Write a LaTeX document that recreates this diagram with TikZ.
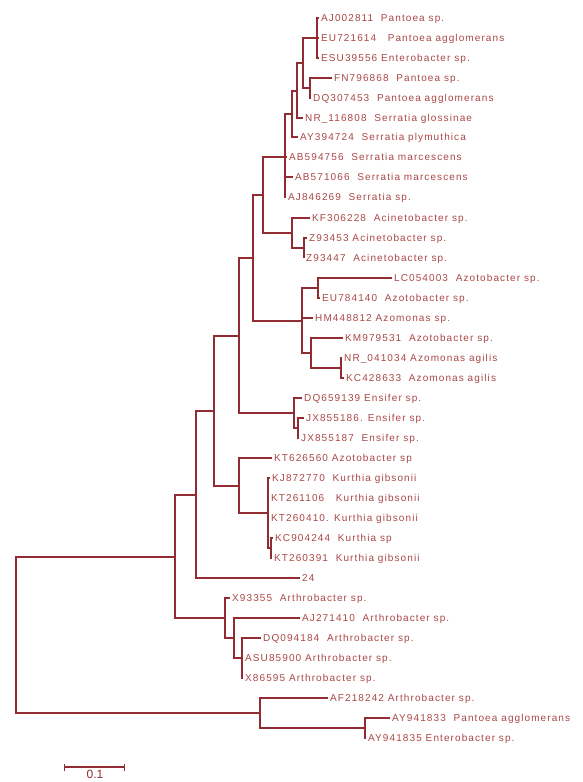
\documentclass[tikz,border=0pt]{standalone}
\usepackage{fontspec}
\setmainfont{Liberation Sans}
\newfontfamily\treefont[LetterSpace=11]{Liberation Sans}
\usetikzlibrary{positioning,arrows.meta}

\definecolor{branchred}{RGB}{145,45,50}
\definecolor{labelred}{RGB}{170,70,70}

\tikzstyle{leaf} = [anchor=west, inner xsep=2pt, inner ysep=0pt, text height=7.2pt, text depth=0pt, font=\fontsize{10}{10}\treefont, text=labelred]
\tikzstyle{branch} = [draw=branchred, line width=1.3pt]
\tikzstyle{scalebar} = [branch, {Bar[width=7pt]}-{Bar[width=7pt]}]

\begin{document}
\begin{tikzpicture}[x=1pt, y=-1pt]
  \useasboundingbox (0,0) rectangle (582,782);

  % leaves
  \node (aj002811) [leaf] at (319,18) {AJ002811\ \ Pantoea sp.};
  \node (eu721614) [leaf] at (319,38) {EU721614\ \ \ Pantoea agglomerans};
  \node (esu39556) [leaf] at (319,58) {ESU39556 Enterobacter sp.};
  \node (fn796868) [leaf] at (332,78) {FN796868\ \ Pantoea sp.};
  \node (dq307453) [leaf] at (311,98) {DQ307453\ \ Pantoea agglomerans};
  \node (nr116808) [leaf] at (303,118) {NR\_116808\ \ Serratia glossinae};
  \node (ay394724) [leaf] at (298,137) {AY394724\ \ Serratia plymuthica};
  \node (ab594756) [leaf] at (287,157) {AB594756\ \ Serratia marcescens};
  \node (ab571066) [leaf] at (293,177) {AB571066\ \ Serratia marcescens};
  \node (aj846269) [leaf] at (286,197) {AJ846269\ \ Serratia sp.};
  \node (kf306228) [leaf] at (310,218) {KF306228\ \ Acinetobacter sp.};
  \node (z93453) [leaf] at (307,238) {Z93453 Acinetobacter sp.};
  \node (z93447) [leaf] at (304,258) {Z93447\ \ Acinetobacter sp.};
  \node (lc054003) [leaf] at (392,278) {LC054003\ \ Azotobacter sp.};
  \node (eu784140) [leaf] at (320,298) {EU784140\ \ Azotobacter sp.};
  \node (hm448812) [leaf] at (313,318) {HM448812 Azomonas sp.};
  \node (km979531) [leaf] at (343,338) {KM979531\ \ Azotobacter sp.};
  \node (nr041034) [leaf] at (342,358) {NR\_041034 Azomonas agilis};
  \node (kc428633) [leaf] at (344,378) {KC428633\ \ Azomonas agilis};
  \node (dq659139) [leaf] at (302,398) {DQ659139 Ensifer sp.};
  \node (jx855186) [leaf] at (304,418) {JX855186. Ensifer sp.};
  \node (jx855187) [leaf] at (299,438) {JX855187\ \ Ensifer sp.};
  \node (kt626560) [leaf] at (272,458) {KT626560 Azotobacter sp};
  \node (kj872770) [leaf] at (270,478) {KJ872770\ \ Kurthia gibsonii};
  \node (kt261106) [leaf] at (269,498) {KT261106\ \ \ Kurthia gibsonii};
  \node (kt260410) [leaf] at (269,518) {KT260410. Kurthia gibsonii};
  \node (kc904244) [leaf] at (273,538) {KC904244\ \ Kurthia sp};
  \node (kt260391) [leaf] at (272,558) {KT260391\ \ Kurthia gibsonii};
  \node (s24) [leaf] at (300,578) {24};
  \node (x93355) [leaf] at (230,598) {X93355\ \ Arthrobacter sp.};
  \node (aj271410) [leaf] at (300,618) {AJ271410\ \ Arthrobacter sp.};
  \node (dq094184) [leaf] at (261,638) {DQ094184\ \ Arthrobacter sp.};
  \node (asu85900) [leaf] at (243,658) {ASU85900 Arthrobacter sp.};
  \node (x86595) [leaf] at (243,678) {X86595 Arthrobacter sp.};
  \node (af218242) [leaf] at (328,698) {AF218242 Arthrobacter sp.};
  \node (ay941833) [leaf] at (390,718) {AY941833\ \ Pantoea agglomerans};
  \node (ay941835) [leaf] at (366,738) {AY941835 Enterobacter sp.};

  % internal nodes
  \coordinate (p1) at (317,38);
  \coordinate (p3) at (310,88);
  \coordinate (p2) at (303,63);
  \coordinate (p4) at (297,91);
  \coordinate (p5) at (292,114);
  \coordinate (p6) at (285,157);
  \coordinate (p9) at (304,248);
  \coordinate (p8) at (292,233);
  \coordinate (p7) at (263,195);
  \coordinate (p12) at (318,288);
  \coordinate (p14) at (341,368);
  \coordinate (p13) at (311,353);
  \coordinate (p11) at (302,321);
  \coordinate (p10) at (253,258);
  \coordinate (p17) at (298,428);
  \coordinate (p16) at (294,413);
  \coordinate (p15) at (239,336);
  \coordinate (p20) at (271,548);
  \coordinate (p19) at (268,513);
  \coordinate (p18) at (239,486);
  \coordinate (p21) at (214,411);
  \coordinate (p22) at (196,495);
  \coordinate (p26) at (242,658);
  \coordinate (p25) at (234,638);
  \coordinate (p24) at (225,618);
  \coordinate (p23) at (175,557);
  \coordinate (p28) at (365,728);
  \coordinate (p27) at (260,713);
  \coordinate (root) at (16,635);

  % branches
  \draw [branch] (aj002811.west) -| (p1) |- (esu39556.west);
  \draw [branch] (p1) -- (eu721614.west);
  \draw [branch] (fn796868.west) -| (p3) |- (dq307453.west);
  \draw [branch] (p1) -| (p2) |- (p3);
  \draw [branch] (p2) -| (p4) |- (nr116808.west);
  \draw [branch] (p4) -| (p5) |- (ay394724.west);
  \draw [branch] (p5) -| (p6) |- (aj846269.west);
  \draw [branch] (p6) -- (ab594756.west);
  \draw [branch] (p6) |- (ab571066.west);
  \draw [branch] (z93453.west) -| (p9) |- (z93447.west);
  \draw [branch] (kf306228.west) -| (p8) |- (p9);
  \draw [branch] (p6) -| (p7) |- (p8);
  \draw [branch] (lc054003.west) -| (p12) |- (eu784140.west);
  \draw [branch] (nr041034.west) -| (p14) |- (kc428633.west);
  \draw [branch] (km979531.west) -| (p13) |- (p14);
  \draw [branch] (p12) -| (p11) |- (p13);
  \draw [branch] (p11) |- (hm448812.west);
  \draw [branch] (p7) -| (p10) |- (p11);
  \draw [branch] (jx855186.west) -| (p17) |- (jx855187.west);
  \draw [branch] (dq659139.west) -| (p16) |- (p17);
  \draw [branch] (p10) -| (p15) |- (p16);
  \draw [branch] (kc904244.west) -| (p20) |- (kt260391.west);
  \draw [branch] (kj872770.west) -| (p19) |- (p20);
  \draw [branch] (p19) |- (kt261106.west);
  \draw [branch] (p19) |- (kt260410.west);
  \draw [branch] (kt626560.west) -| (p18) |- (p19);
  \draw [branch] (p15) -| (p21) |- (p18);
  \draw [branch] (p21) -| (p22) |- (s24.west);
  \draw [branch] (dq094184.west) -| (p26) |- (x86595.west);
  \draw [branch] (p26) -- (asu85900.west);
  \draw [branch] (aj271410.west) -| (p25) |- (p26);
  \draw [branch] (x93355.west) -| (p24) |- (p25);
  \draw [branch] (p22) -| (p23) |- (p24);
  \draw [branch] (ay941833.west) -| (p28) |- (ay941835.west);
  \draw [branch] (af218242.west) -| (p27) |- (p28);
  \draw [branch] (p23) -| (root) |- (p27);

  % scale
  \coordinate (sbleft) at (64,767);
  \coordinate (sbright) at (125,767);
  \coordinate (sblabelpos) at (95,778.5);
  \draw [scalebar] (sbleft) -- (sbright);
  \node (sblabel) [leaf, anchor=base, inner sep=0pt, font=\fontsize{12}{12}\selectfont, text=branchred] at (sblabelpos) {0.1};
\end{tikzpicture}
\end{document}
